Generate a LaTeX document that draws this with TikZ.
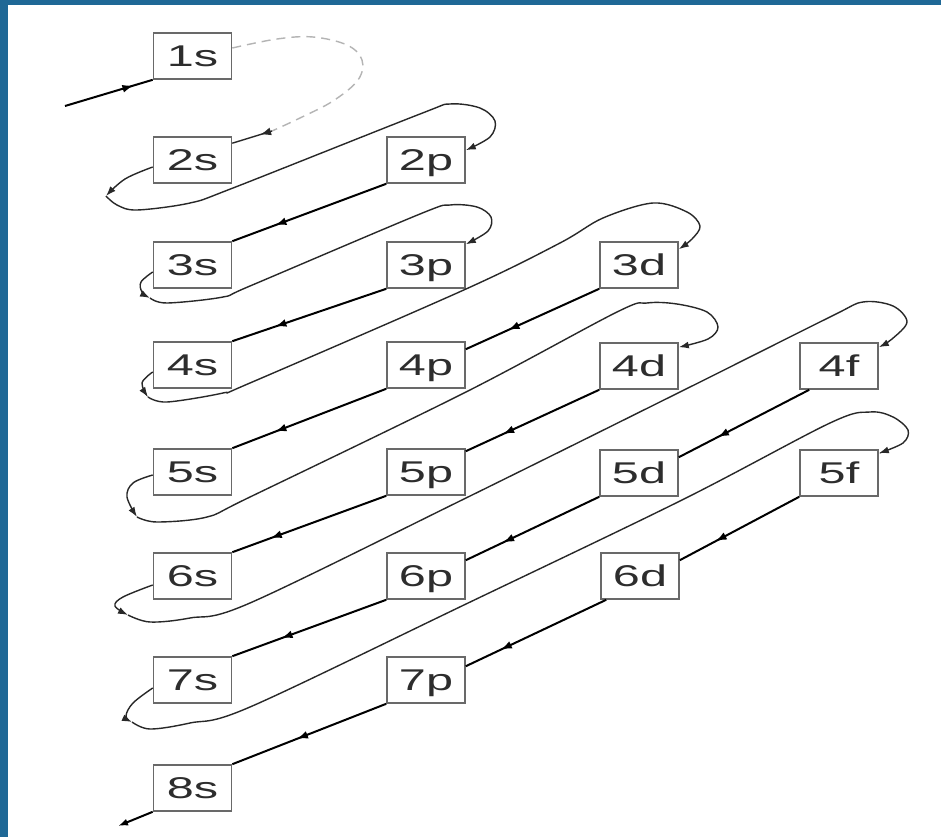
\documentclass[tikz,border=0pt]{standalone}
\usepackage{fontspec}
\setmainfont{Liberation Sans}
\usetikzlibrary{arrows.meta,decorations.markings,calc}
\definecolor{frameblue}{RGB}{31,104,150}
\definecolor{boxgray}{RGB}{105,105,105}
\definecolor{txtgray}{RGB}{45,45,45}
\definecolor{loopgray}{RGB}{40,40,40}
\definecolor{dashgray}{RGB}{180,180,180}
\newcommand\orbtxt[1]{\scalebox{1.62}[1]{#1}}
\begin{document}
\begin{tikzpicture}[x=1pt,y=-1pt,
  orb/.style={draw=boxgray, line width=1.6pt, fill=white, minimum width=78pt, minimum height=46pt,
    inner sep=0pt, text height=21.5pt, text depth=0pt, text=txtgray, font=\fontsize{30}{30}\selectfont},
  blk/.style={line width=2pt, black},
  midarr/.style={postaction={decorate}, decoration={markings, mark=at position #1 with {\arrow{Latex[length=11pt,width=8pt]}}}},
  loopl/.style={line width=1.4pt, loopgray},
  endtip/.style={-{Latex[length=10pt,width=7pt]}},
  dashl/.style={line width=1.4pt, dashgray, dash pattern=on 9pt off 6pt},
]
\useasboundingbox (0,0) rectangle (941,837);
\fill[white] (0,0) rectangle (941,837);
\fill[frameblue] (0,0) rectangle (8,837);
\fill[frameblue] (0,0) rectangle (941,5);

% orbital boxes
\node[orb] (n1s) at (192.5,56) {\orbtxt{1s}};
\node[orb] (n2s) at (192.5,160) {\orbtxt{2s}};
\node[orb] (n2p) at (426,160) {\orbtxt{2p}};
\node[orb] (n3s) at (192.5,265) {\orbtxt{3s}};
\node[orb] (n3p) at (426,265) {\orbtxt{3p}};
\node[orb] (n3d) at (639,265) {\orbtxt{3d}};
\node[orb] (n4s) at (192.5,365) {\orbtxt{4s}};
\node[orb] (n4p) at (426,365) {\orbtxt{4p}};
\node[orb] (n4d) at (639,366) {\orbtxt{4d}};
\node[orb] (n4f) at (839,366) {\orbtxt{4f}};
\node[orb] (n5s) at (192.5,472) {\orbtxt{5s}};
\node[orb] (n5p) at (426,472) {\orbtxt{5p}};
\node[orb] (n5d) at (639,473) {\orbtxt{5d}};
\node[orb] (n5f) at (839,473) {\orbtxt{5f}};
\node[orb] (n6s) at (192.5,576) {\orbtxt{6s}};
\node[orb] (n6p) at (426,576) {\orbtxt{6p}};
\node[orb] (n6d) at (640,576) {\orbtxt{6d}};
\node[orb] (n7s) at (192.5,680) {\orbtxt{7s}};
\node[orb] (n7p) at (426,680) {\orbtxt{7p}};
\node[orb] (n8s) at (192.5,788) {\orbtxt{8s}};

% entry and exit
\coordinate (cin) at (65,106);
\coordinate (cout) at (118,826);
\draw[blk, midarr=0.78] (cin) -- (n1s.south west);
\draw[blk, endtip] (n8s.south west) -- (cout);

% diagonal arrows
\draw[blk, midarr=0.72] (n2p.south west) -- (n3s.north east);
\draw[blk, midarr=0.72] (n3p.south west) -- (n4s.north east);
\draw[blk, midarr=0.68] (n3d.south west) -- ([yshift=-8pt]n4p.north east);
\draw[blk, midarr=0.72] (n4p.south west) -- (n5s.north east);
\draw[blk, midarr=0.72] (n4d.south west) -- ([yshift=-3pt]n5p.north east);
\draw[blk, midarr=0.75] (n5p.south west) -- (n6s.north east);
\draw[blk, midarr=0.7] ([xshift=10pt]n4f.south west) -- ([yshift=-8pt]n5d.north east);
\draw[blk, midarr=0.72] (n5d.south west) -- ([yshift=-8pt]n6p.north east);
\draw[blk, midarr=0.68] (n6p.south west) -- (n7s.north east);
\draw[blk, midarr=0.7] (n5f.south west) -- ([yshift=-8pt]n6d.north east);
\draw[blk, midarr=0.75] ([xshift=6pt]n6d.south west) -- ([yshift=-10pt]n7p.north east);
\draw[blk, midarr=0.58] (n7p.south west) -- (n8s.north east);

% 1s -> 2s (faint)
\coordinate (d1) at (272,131);
\draw[dashl] plot[smooth, tension=0.6] coordinates {([yshift=8pt]n1s.east) (277,39) (313,37) (347,45) (362,60) (358,80) (333,101) (300,118) (d1)};
\draw[loopl, midarr=0.3] (d1) -- ([yshift=-7pt]n2s.north east);

% 2s -> 2p
\coordinate (h2) at (106,196);
\draw[loopl, endtip] plot[smooth, tension=0.6] coordinates {([yshift=-7pt]n2s.west) (125,179) (h2)};
\draw[loopl, endtip] plot[smooth, tension=0.55] coordinates {(h2) (117,205) (137,210) (190,203) (233,188) (420,114) (450,104) (480,108) (495,121) (490,137) ([yshift=-14pt]n2p.north east)};

% 3s -> 3p
\coordinate (h3) at (150,298);
\draw[loopl, endtip] plot[smooth, tension=0.6] coordinates {([yshift=-7pt]n3s.west) (141,282) (142,292) (h3)};
\draw[loopl, endtip] plot[smooth, tension=0.55] coordinates {(h3) (167,303) (223,297) (250,286) (420,214) (450,205) (477,207) (491,217) (488,231) ([yshift=-3pt]n3p.north east)};

% 4s -> 3d
\coordinate (h4) at (148,397);
\draw[loopl, endtip] plot[smooth, tension=0.6] coordinates {([yshift=-7pt]n4s.west) (142,383) (h4)};
\draw[loopl, endtip] plot[smooth, tension=0.55] coordinates {(h4) (167,402) (223,393) (250,383) (466,289) (560,243) (603,218) (653,203) (687,212) (700,226) (692,239) ([yshift=-8pt]n3d.north east)};

% 5s -> 4d
\coordinate (h5) at (137,517);
\draw[loopl, endtip] plot[smooth, tension=0.6] coordinates {([yshift=-3pt]n5s.west) (133,483) (127,497) (h5)};
\draw[loopl, endtip] plot[smooth, tension=0.55] coordinates {(h5) (157,522) (207,517) (250,497) (466,392) (617,312) (647,303) (677,304) (707,312) (718,327) (708,339) ([yshift=-5pt]n4d.north east)};

% 6s -> 4f
\coordinate (h6) at (128,615);
\draw[loopl, endtip] plot[smooth, tension=0.6] coordinates {([yshift=-9pt]n6s.west) (123,597) (115,606) (h6)};
\draw[loopl, endtip] plot[smooth, tension=0.55] coordinates {(h6) (150,622) (190,618) (250,603) (466,498) (682,391) (830,317) (863,302) (893,306) (907,322) (892,339) ([yshift=-5pt]n4f.north east)};

% 7s -> 5f
\coordinate (h7) at (132,722);
\draw[loopl, endtip] plot[smooth, tension=0.6] coordinates {([yshift=-8pt]n7s.west) (133,703) (126,716) (h7)};
\draw[loopl, endtip] plot[smooth, tension=0.55] coordinates {(h7) (150,729) (190,723) (250,707) (466,604) (682,500) (830,423) (870,412) (893,417) (908,430) (903,443) ([yshift=-4pt]n5f.north east)};
\end{tikzpicture}
\end{document}
